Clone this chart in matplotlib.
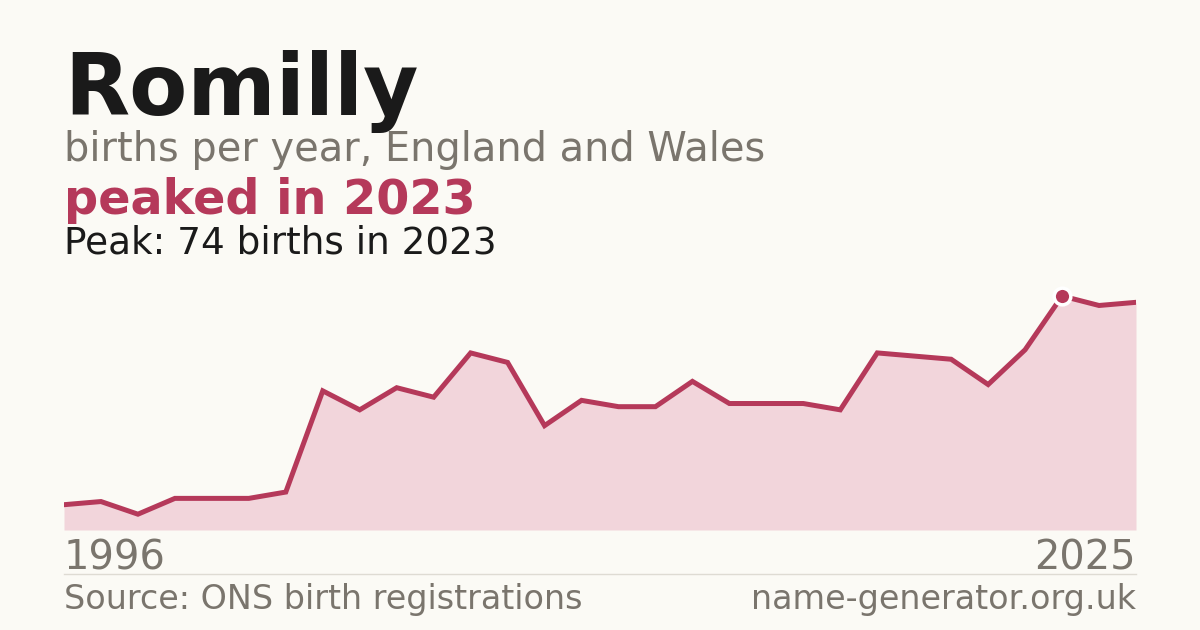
import numpy as np
import matplotlib
matplotlib.use("Agg")
import matplotlib.pyplot as plt

years = list(range(1996, 2026))
births = [8, 9, 5, 10, 10, 10, 12, 44, 38, 45, 42, 56, 53, 33, 41, 39, 39, 47,
          40, 40, 40, 38, 56, 55, 54, 46, 57, 74, 71, 72]
peak_year = 2023
peak_value = 74

BG = "#fbfaf5"
RED = "#b5395a"
FILL = "#f2d5db"
GREY = "#7a756d"
INK = "#1a1a1a"

W, H = 1200, 630
fig = plt.figure(figsize=(12, 6.3), dpi=100, facecolor=BG)

def fy(y):
    return 1 - y / H

# plot area: x 64..1136 px, zero at y=530, axes top at 280
ax = fig.add_axes([64 / W, fy(530), (1136 - 64) / W, (530 - 280) / H])
ax.set_facecolor(BG)
ax.fill_between(years, births, 0, color=FILL, linewidth=0, zorder=1)
ax.plot(years, births, color=RED, linewidth=3.6, solid_joinstyle="miter", zorder=2)
ax.plot([peak_year], [peak_value], marker="o", markersize=12, color=RED,
        markeredgecolor="white", markeredgewidth=2.5, zorder=3, clip_on=False)
ax.set_xlim(years[0], years[-1])
ax.set_ylim(0, peak_value * 250 / 234)
ax.axis("off")

fig.text(64 / W, fy(115), "Romilly", fontsize=61, fontweight="bold", color=INK, va="baseline")
fig.text(64 / W, fy(161), "births per year, England and Wales", fontsize=28.7, color=GREY, va="baseline")
fig.text(64 / W, fy(214), "peaked in 2023", fontsize=34.4, fontweight="bold", color=RED, va="baseline")
fig.text(64 / W, fy(254), "Peak: 74 births in 2023", fontsize=26.9, color=INK, va="baseline")

fig.text(64 / W, fy(569), str(years[0]), fontsize=28.8, color=GREY, va="baseline")
fig.text(1136 / W, fy(569), str(years[-1]), fontsize=28.8, color=GREY, va="baseline", ha="right")

fig.add_artist(plt.Line2D([64 / W, 1136 / W], [fy(574), fy(574)], color="#dedbd3", linewidth=1))

fig.text(64 / W, fy(609), "Source: ONS birth registrations", fontsize=24, color=GREY, va="baseline")
fig.text(1136 / W, fy(609), "name-generator.org.uk", fontsize=24, color=GREY, va="baseline", ha="right")

fig.savefig("out.png", dpi=100, facecolor=BG)
